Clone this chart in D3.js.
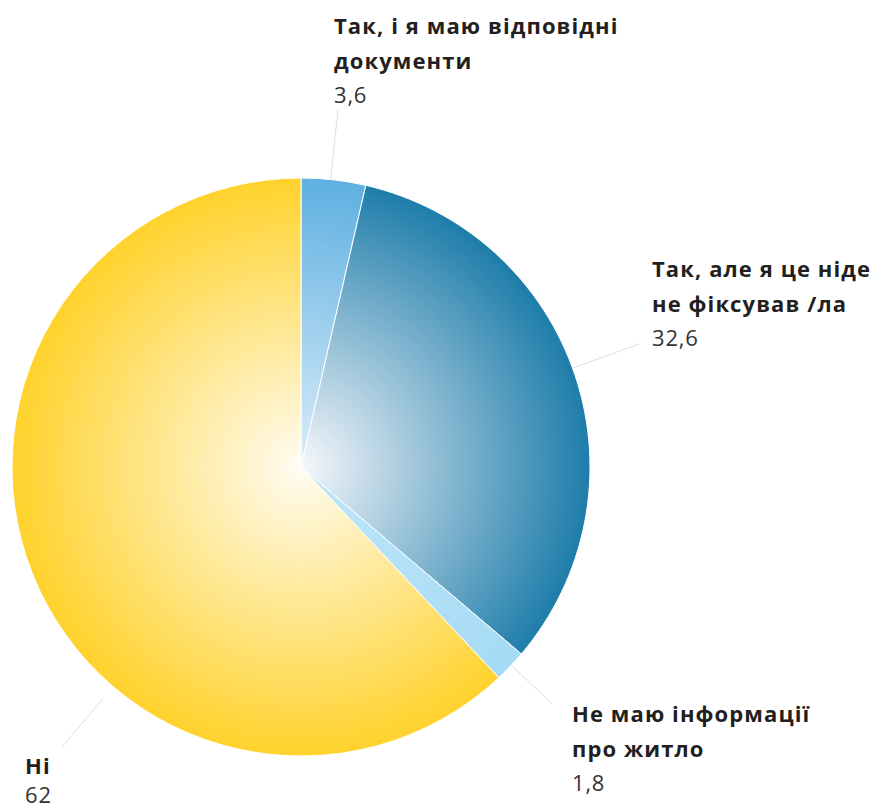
<!DOCTYPE html>
<html>
<head>
<meta charset="utf-8">
<script src="https://cdn.jsdelivr.net/npm/d3@7"></script>
<style>
  body { margin: 0; background: #fff; }
  svg { display: block; }
</style>
</head>
<body>
<div class="canva"></div>
<script>
// data
const categories = ["Так, і я маю відповідні документи", "Так, але я це ніде не фіксував /ла", "Не маю інформації про житло", "Ні"]
const values = [3.6, 32.6, 1.8, 62]
const valueLabels = ["3,6", "32,6", "1,8", "62"]
const labelLines = [["Так, і я маю відповідні", "документи"], ["Так, але я це ніде", "не фіксував /ла"], ["Не маю інформації", "про житло"], ["Ні"]]

const colorsEdge = ["#5eb0e1", "#1e7daa", "#a6dbf5", "#ffd22c"]
const colorsCenter = ["#dcedfa", "#f6f7fb", "#bfe6f9", "#fffcf3"]

// label layout
const labelPos = [[334, 34], [652, 277], [572, 722], [25, 774]]
const lineAngles = [5.9, 70, 133.3, 220.5]
const lineR = [[289, 359], [290, 360], [289, 345], [305, 368]]

const W = 875, H = 807
const cx = 301, cy = 467, R = 289

const svg = d3.select('.canva').append("svg")
  .attr("width", W).attr("height", H)

const defs = svg.append("defs")
colorsEdge.forEach((c, i) => {
  const g = defs.append("radialGradient")
    .attr("id", "grad" + i)
    .attr("gradientUnits", "userSpaceOnUse")
    .attr("cx", 0).attr("cy", 0).attr("r", R)
  g.append("stop").attr("offset", "0%").attr("stop-color", colorsCenter[i])
  g.append("stop").attr("offset", "100%").attr("stop-color", c)
})

const pie = d3.pie().sort(null).value(d => d)
const arc = d3.arc().innerRadius(0).outerRadius(R)

const g = svg.append("g").attr("transform", `translate(${cx},${cy})`)

g.selectAll("path")
  .data(pie(values))
  .enter().append("path")
  .attr("d", arc)
  .attr("fill", (d, i) => `url(#grad${i})`)
  .attr("stroke", "#fff")
  .attr("stroke-width", 1)

// leader lines
g.selectAll("line.lead")
  .data(lineAngles)
  .enter().append("line")
  .attr("class", "lead")
  .attr("x1", (d, i) => lineR[i][0] * Math.sin(d * Math.PI / 180))
  .attr("y1", (d, i) => -lineR[i][0] * Math.cos(d * Math.PI / 180))
  .attr("x2", (d, i) => lineR[i][1] * Math.sin(d * Math.PI / 180))
  .attr("y2", (d, i) => -lineR[i][1] * Math.cos(d * Math.PI / 180))
  .attr("stroke", "#dedede")
  .attr("stroke-width", 1)

// labels
const lab = svg.selectAll("g.lab")
  .data(categories)
  .enter().append("g")
  .attr("class", "lab")
  .attr("transform", (d, i) => `translate(${labelPos[i][0]},${labelPos[i][1]})`)

lab.each(function(d, i) {
  const el = d3.select(this)
  labelLines[i].forEach((t, j) => {
    el.append("text").text(t)
      .attr("y", j * 35)
      .attr("font-family", "'Open Sans', sans-serif")
      .attr("font-weight", 700)
      .attr("font-size", 22)
      .attr("letter-spacing", 1.1)
      .attr("fill", "#231f20")
  })
  el.append("text").text(valueLabels[i])
    .attr("y", labelLines[i].length === 1 ? 29 : 69)
    .attr("font-family", "'Open Sans', sans-serif")
    .attr("font-weight", 400)
    .attr("font-size", 22)
    .attr("letter-spacing", 0.8)
    .attr("fill", "#333")
})
</script>
</body>
</html>
